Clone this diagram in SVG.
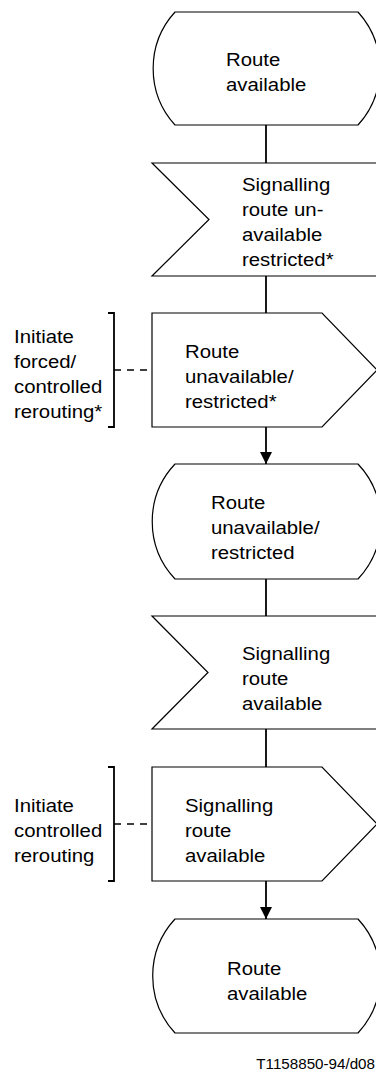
<svg xmlns="http://www.w3.org/2000/svg" width="376" height="1075" viewBox="0 0 376 1075">
<style>
.shape{fill:#fff;stroke:#000;stroke-width:1.2}
.conn{fill:none;stroke:#000;stroke-width:1.8}
.dash{fill:none;stroke:#000;stroke-width:1.6;stroke-dasharray:7 6}
.brk{fill:none;stroke:#000;stroke-width:1.8}
text{font-family:"Liberation Sans",Arial,sans-serif;font-size:18.5px;fill:#000}
.foot{font-size:13.8px}
</style>
<defs>
<marker id="arr" markerWidth="12" markerHeight="12" refX="12" refY="6" orient="auto" markerUnits="userSpaceOnUse">
<path d="M0,0 L12,6 L0,12 Z" fill="#000"/>
</marker>
</defs>
<g id="connectors">
<line class="conn" x1="266" y1="125" x2="266" y2="163"/>
<line class="conn" x1="266" y1="276" x2="266" y2="313"/>
<line class="conn" x1="266" y1="427" x2="266" y2="464" marker-end="url(#arr)"/>
<line class="conn" x1="266" y1="579" x2="266" y2="616"/>
<line class="conn" x1="266" y1="729" x2="266" y2="767"/>
<line class="conn" x1="266" y1="881" x2="266" y2="919" marker-end="url(#arr)"/>
<line class="dash" x1="114" y1="370" x2="152" y2="370"/>
<line class="dash" x1="114" y1="824" x2="152" y2="824"/>
</g>
<g id="n1">
<path class="shape" d="M175,12 H358 A84,84 0 0 1 358,125 H175 A84,84 0 0 1 175,12 Z"/>
<g transform="translate(226,0) scale(1.1,1)">
<text x="0" y="66">Route</text>
<text x="0" y="91">available</text>
</g>
</g>
<g id="n2">
<path class="shape" d="M152,163 H380 V276 H152 L209,219.5 Z"/>
<g transform="translate(242,0) scale(1.1,1)">
<text x="0" y="191">Signalling</text>
<text x="0" y="216">route un-</text>
<text x="0" y="241">available</text>
<text x="0" y="266">restricted*</text>
</g>
</g>
<g id="n3">
<path class="shape" d="M152,313 H322 L377,370 L322,427 H152 Z"/>
<g transform="translate(185,0) scale(1.1,1)">
<text x="0" y="358">Route</text>
<text x="0" y="383">unavailable/</text>
<text x="0" y="408">restricted*</text>
</g>
</g>
<g id="c3">
<path class="brk" d="M108,313 H114 V427 H108"/>
<g transform="translate(14,0) scale(1.1,1)">
<text x="0" y="343">Initiate</text>
<text x="0" y="368">forced/</text>
<text x="0" y="393">controlled</text>
<text x="0" y="418">rerouting*</text>
</g>
</g>
<g id="n4">
<path class="shape" d="M175,464 H358 A84,84 0 0 1 358,579 H175 A84,84 0 0 1 175,464 Z"/>
<g transform="translate(211,0) scale(1.1,1)">
<text x="0" y="509">Route</text>
<text x="0" y="534">unavailable/</text>
<text x="0" y="559">restricted</text>
</g>
</g>
<g id="n5">
<path class="shape" d="M152,616 H380 V729 H152 L208,672.5 Z"/>
<g transform="translate(242,0) scale(1.1,1)">
<text x="0" y="660">Signalling</text>
<text x="0" y="685">route</text>
<text x="0" y="710">available</text>
</g>
</g>
<g id="n6">
<path class="shape" d="M152,767 H322 L377,824 L322,881 H152 Z"/>
<g transform="translate(185,0) scale(1.1,1)">
<text x="0" y="812">Signalling</text>
<text x="0" y="837">route</text>
<text x="0" y="862">available</text>
</g>
</g>
<g id="c6">
<path class="brk" d="M108,767 H114 V881 H108"/>
<g transform="translate(14,0) scale(1.1,1)">
<text x="0" y="812">Initiate</text>
<text x="0" y="837">controlled</text>
<text x="0" y="862">rerouting</text>
</g>
</g>
<g id="n7">
<path class="shape" d="M175,919 H358 A84,84 0 0 1 358,1033 H175 A84,84 0 0 1 175,919 Z"/>
<g transform="translate(227,0) scale(1.1,1)">
<text x="0" y="975">Route</text>
<text x="0" y="1000">available</text>
</g>
</g>
<g id="footer" transform="translate(375,0) scale(1.1,1)">
<text class="foot" x="0" y="1069" text-anchor="end">T1158850-94/d08</text>
</g>
</svg>
